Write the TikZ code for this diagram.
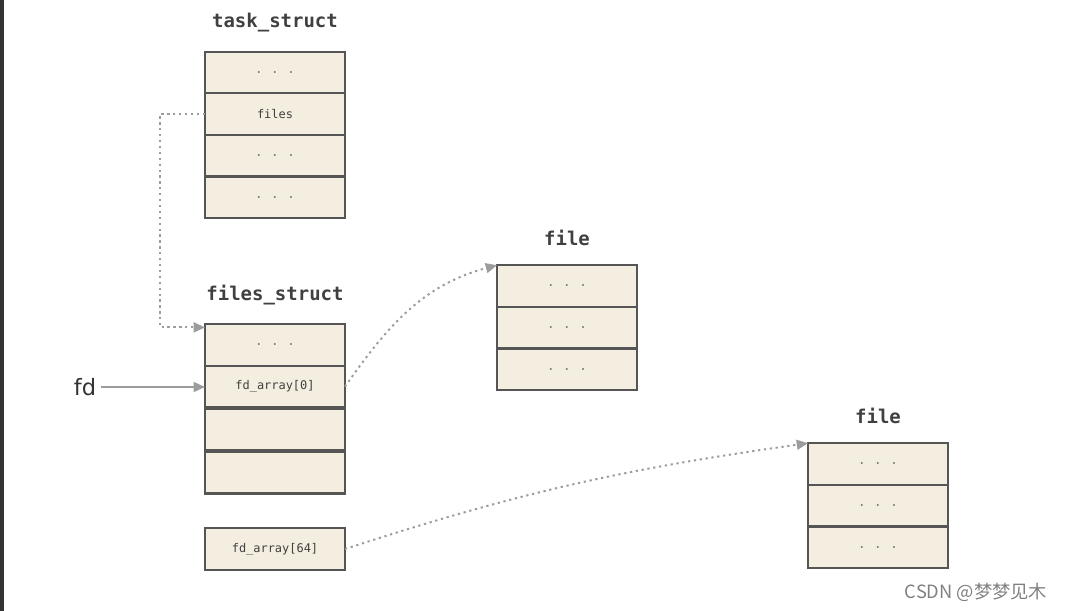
\documentclass[tikz,border=0pt]{standalone}
\usepackage{fontspec}
\setmonofont{DejaVu Sans Mono}
\setsansfont{DejaVu Sans}
\newfontfamily\cjkfont{Noto Sans CJK SC}
\usetikzlibrary{positioning,arrows.meta}

\definecolor{cellfill}{HTML}{F3EEDF}
\definecolor{celledge}{HTML}{555555}
\definecolor{linkgray}{HTML}{9C9C9C}

\tikzset{
  cell/.style={draw=celledge, line width=1.6pt, fill=cellfill, minimum width=3.5cm,
    minimum height=1.04cm, inner sep=0pt, outer sep=0pt, text=black!75,
    font=\ttfamily\fontsize{8.5}{10}\selectfont},
  dots/.style={cell, text=black!50, font=\ttfamily\fontsize{9.5}{10}\selectfont},
  title/.style={font=\ttfamily\bfseries\fontsize{13.5}{16}\selectfont, text=black!75},
  link/.style={draw=linkgray, line width=1.4pt, dash pattern=on 1.6pt off 2.6pt,
    -{Triangle[width=7pt,length=8pt]}},
  plain/.style={draw=linkgray, line width=1.2pt, -{Triangle[width=7pt,length=8pt]}},
}

\begin{document}
\begin{tikzpicture}[x=0.025cm,y=-0.025cm]
    \useasboundingbox (0,0) rectangle (1065,611);
    % Screenshot edge
    \fill[black!80] (0,0) rectangle (4,611);

    % task_struct
    \node[title] (tstitle) at (275,23) {task\_struct};
    \node[dots] (ts1) at (275,72.5) {.\ .\ .};
    \node[cell, below=0pt of ts1] (ts2) {files};
    \foreach \i/\j in {3/2, 4/3}
        \node[dots, below=0pt of ts\j] (ts\i) {.\ .\ .};

    % files_struct
    \node[title] (fstitle) at (275,295) {files\_struct};
    \node[dots] (fs1) at (275,345) {.\ .\ .};
    \node[cell, below=0pt of fs1] (fs2) {fd\_array[0]};
    \node[cell, outer sep=0.7pt, below=0pt of fs2] (fs3) {};
    \node[cell, outer sep=0.7pt, below=0pt of fs3] (fs4) {};
    \node[cell] (fd64) at (275,549) {fd\_array[64]};

    % fd label
    \node[font=\sffamily\fontsize{16}{18}\selectfont, text=black!80] (fd) at (85,387) {fd};

    % the two file structs
    \node[title] (fatitle) at (567,238) {file};
    \node[dots] (fa1) at (567,286) {.\ .\ .};
    \foreach \i/\j in {2/1, 3/2}
        \node[dots, below=0pt of fa\j] (fa\i) {.\ .\ .};

    \node[title] (fbtitle) at (878,416) {file};
    \node[dots] (fb1) at (878,464) {.\ .\ .};
    \foreach \i/\j in {2/1, 3/2}
        \node[dots, below=0pt of fb\j] (fb\i) {.\ .\ .};

    % Pointers
    \draw[link] (ts2.west) -- ++(-45,0) |- ([yshift=-0.08cm]fs1.north west);
    \draw[plain] (fd.east) -- (fd.east -| fs2.west);
    \draw[link] (fs2.east) to[out=55, in=195] (fa1.north west);
    \draw[link] (fd64.east) to[out=18, in=188] (fb1.north west);

    % Watermark
    \node[font=\cjkfont\fontsize{13}{15}\selectfont, text=black!50] (mark) at (976,592) {CSDN @梦梦见木};
\end{tikzpicture}
\end{document}
